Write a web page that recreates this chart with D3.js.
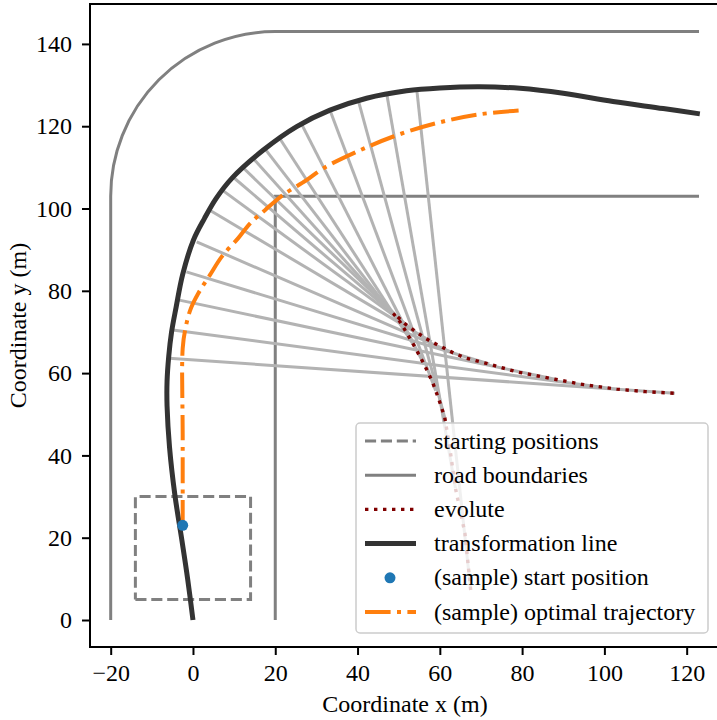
<!DOCTYPE html>
<html>
<head>
<meta charset="utf-8">
<script src="https://cdn.jsdelivr.net/npm/d3@7"></script>
<style>
  body { margin: 0; background: #fff; }
  svg { display: block; font-family: "Liberation Serif", "DejaVu Serif", serif; }
</style>
</head>
<body>
<svg width="717" height="720"></svg>
<script>
// tick values
var xTicks = [-20, 0, 20, 40, 60, 80, 100, 120];
var yTicks = [0, 20, 40, 60, 80, 100, 120, 140];

// road boundaries (outer road has a rounded corner)
var roadOuterStraight = [[-20, 0], [-20, 103]];
var roadOuterTop = [[20, 143], [123, 143]];
var roadCorner = {cx: 20, cy: 103, r: 40};
var roadInner = [[20, 0], [20, 103], [123, 103]];

// starting positions box
var startBox = {x0: -14, x1: 14, y0: 5, y1: 30};

// transformation line
var transformLine = [
  [0, 0], [-1.3, 10], [-2.7, 19.4], [-4.4, 30.4], [-5.7, 42], [-6.3, 52],
  [-6.3, 58], [-5.9, 64], [-5.2, 70], [-4.1, 76], [-2.5, 84], [0.1, 92.3],
  [2.8, 97.6], [5.6, 102.4], [9.6, 107.5], [17.1, 114.2], [25.2, 119.9],
  [33.3, 123.9], [42.2, 126.8], [51.9, 128.6], [60, 129.3], [69.7, 129.6],
  [79.5, 129.2], [90, 128], [102.1, 126], [114.3, 124.3], [123.2, 123]
];

// evolute (lower end -> cusp -> right end)
var evolute = [
  [67.5, 7.3], [66.1, 21.1], [63.8, 32], [62.4, 42], [61.2, 49.2], [59.8, 53.5],
  [58.2, 57.9], [56.2, 62.1], [53.9, 66.4], [51.5, 70.5], [50.3, 72.5], [48.7, 74.5],
  [49.2, 74.2], [51.5, 72], [54, 70.2], [56, 68.8], [58, 67.6], [60, 66.6],
  [63.5, 64.8], [66.5, 63.6], [72, 62.2], [78.7, 60.3], [88, 58.5],
  [95, 57.2], [103, 56.1], [110, 55.5], [117.1, 55.1]
];

// normals: from transformation line to evolute
var normals = [
  [-5.8, 63.6, 117.1, 55.1],
  [-4.9, 70.5, 103, 56.1],
  [-3.6, 77.8, 88, 58.5],
  [-1.6, 84.6, 72, 62.2],
  [0.9, 91.9, 63.5, 64.8],
  [4.2, 99.5, 58, 67.6],
  [7.2, 104.4, 54, 70.2],
  [9.8, 107.6, 51.5, 72],
  [12.2, 109.9, 49.2, 74.2],
  [14.7, 112.1, 50.3, 72.5],
  [17.5, 114.5, 51.5, 70.5],
  [21.1, 117.0, 53.9, 66.4],
  [26.4, 120.5, 56.2, 62.1],
  [33.3, 123.9, 59, 55.7],
  [40.2, 126.2, 61.2, 49.2],
  [47.1, 127.8, 63.8, 32],
  [54.4, 128.9, 67.5, 7.3]
];

// sample optimal trajectory and its start
var trajectory = [
  [-2.5, 23], [-2.5, 45], [-2.5, 66], [-1.8, 71], [-0.6, 75.5], [1.3, 79.4],
  [4.1, 83.8], [7, 88.3], [11, 92.8], [13.9, 96.4], [17.5, 99.6], [21.9, 103.3],
  [27.6, 106.9], [31.7, 109.8], [39.8, 113.8], [48.7, 117.5], [59, 120.7],
  [69.7, 122.9], [80.3, 123.9]
];
var startPosition = [-2.5, 23];

var legendLabels = [
  "starting positions", "road boundaries", "evolute",
  "transformation line", "(sample) start position", "(sample) optimal trajectory"
];

var svg = d3.select("svg"),
    plotLeft = 90, plotRight = 720, plotTop = 4, plotBottom = 647,
    fontSize = "24px";

var x = d3.scaleLinear().domain([-25.03, 128.1]).range([plotLeft, plotRight]);
var y = d3.scaleLinear().domain([-6.56, 149.7]).range([plotBottom, plotTop]);

var line = d3.line()
  .x(function(d) { return x(d[0]); })
  .y(function(d) { return y(d[1]); });
var smooth = d3.line()
  .x(function(d) { return x(d[0]); })
  .y(function(d) { return y(d[1]); })
  .curve(d3.curveCatmullRom);

var plot = svg.append("g");

// road boundaries
var k = x(1) - x(0);
var outerPath = d3.path();
outerPath.moveTo(x(roadOuterStraight[0][0]), y(roadOuterStraight[0][1]));
outerPath.lineTo(x(roadOuterStraight[1][0]), y(roadOuterStraight[1][1]));
outerPath.arc(x(roadCorner.cx), y(roadCorner.cy), roadCorner.r * k, Math.PI, 1.5 * Math.PI);
outerPath.lineTo(x(roadOuterTop[1][0]), y(roadOuterTop[1][1]));

plot.append("path")
  .attr("d", outerPath.toString())
  .attr("fill", "none")
  .attr("stroke", "#808080")
  .attr("stroke-width", 3);

plot.append("path")
  .datum(roadInner)
  .attr("d", line)
  .attr("fill", "none")
  .attr("stroke", "#808080")
  .attr("stroke-width", 3);

// starting positions
plot.append("path")
  .datum([[startBox.x0, startBox.y0], [startBox.x1, startBox.y0], [startBox.x1, startBox.y1],
          [startBox.x0, startBox.y1], [startBox.x0, startBox.y0]])
  .attr("d", line)
  .attr("fill", "none")
  .attr("stroke", "#808080")
  .attr("stroke-width", 3)
  .attr("stroke-dasharray", "11.1,4.8");

// normals
plot.selectAll(".normal")
  .data(normals)
  .enter().append("line")
  .attr("class", "normal")
  .attr("x1", function(d) { return x(d[0]); })
  .attr("y1", function(d) { return y(d[1]); })
  .attr("x2", function(d) { return x(d[2]); })
  .attr("y2", function(d) { return y(d[3]); })
  .attr("stroke", "#b3b3b3")
  .attr("stroke-width", 3);

// evolute
plot.append("path")
  .datum(evolute)
  .attr("d", line)
  .attr("fill", "none")
  .attr("stroke", "#800000")
  .attr("stroke-width", 3.4)
  .attr("stroke-dasharray", "3.4,5.6");

// transformation line
plot.append("path")
  .datum(transformLine)
  .attr("d", smooth)
  .attr("fill", "none")
  .attr("stroke", "#333333")
  .attr("stroke-width", 5);

// optimal trajectory
plot.append("path")
  .datum(trajectory)
  .attr("d", smooth)
  .attr("fill", "none")
  .attr("stroke", "#ff7f0e")
  .attr("stroke-width", 4)
  .attr("stroke-dasharray", "25.6,6.4,4,6.4");

plot.append("circle")
  .attr("cx", x(startPosition[0]))
  .attr("cy", y(startPosition[1]))
  .attr("r", 5.5)
  .attr("fill", "#1f77b4");

// axes
var xAxis = svg.append("g")
  .attr("transform", "translate(0," + plotBottom + ")")
  .call(d3.axisBottom(x).tickValues(xTicks).tickSize(8).tickPadding(9)
    .tickFormat(function(d) { return d < 0 ? "\u2212" + Math.abs(d) : d; }));
var yAxis = svg.append("g")
  .attr("transform", "translate(" + plotLeft + ",0)")
  .call(d3.axisLeft(y).tickValues(yTicks).tickSize(8).tickPadding(10));

[xAxis, yAxis].forEach(function(a) {
  a.select(".domain").remove();
  a.selectAll(".tick line").attr("stroke", "#000").attr("stroke-width", 2);
  a.selectAll(".tick text")
    .attr("fill", "#000")
    .style("font-family", "Liberation Serif, serif")
    .style("font-size", fontSize);
});

// spines (right spine falls outside the picture)
svg.append("path")
  .attr("d", "M" + plotRight + "," + plotTop + "H" + plotLeft + "V" + plotBottom + "H" + plotRight)
  .attr("fill", "none")
  .attr("stroke", "#000")
  .attr("stroke-width", 2);

svg.append("text")
  .attr("x", (plotLeft + plotRight) / 2)
  .attr("y", 712)
  .attr("text-anchor", "middle")
  .style("font-size", fontSize)
  .text("Coordinate x (m)");

svg.append("text")
  .attr("transform", "translate(26," + (plotTop + plotBottom) / 2 + ") rotate(-90)")
  .attr("text-anchor", "middle")
  .style("font-size", fontSize)
  .text("Coordinate y (m)");

// legend
var legend = svg.append("g");
legend.append("rect")
  .attr("x", 356).attr("y", 423)
  .attr("width", 352).attr("height", 210)
  .attr("rx", 4)
  .attr("fill", "#fff")
  .attr("fill-opacity", 0.8)
  .attr("stroke", "#cccccc")
  .attr("stroke-width", 1.5);

var handles = [
  {stroke: "#808080", width: 3, dash: "11.1,4.8"},
  {stroke: "#808080", width: 3, dash: null},
  {stroke: "#800000", width: 3.4, dash: "3.4,5.6"},
  {stroke: "#333333", width: 5, dash: null},
  {dot: true},
  {stroke: "#ff7f0e", width: 4, dash: "25.6,6.4,4,6.4"}
];

legendLabels.forEach(function(label, i) {
  var ry = 441 + i * 34.2;
  var h = handles[i];
  if (h.dot) {
    legend.append("circle").attr("cx", 390).attr("cy", ry).attr("r", 5.5).attr("fill", "#1f77b4");
  } else {
    legend.append("line")
      .attr("x1", 365).attr("x2", 416)
      .attr("y1", ry).attr("y2", ry)
      .attr("stroke", h.stroke)
      .attr("stroke-width", h.width)
      .attr("stroke-dasharray", h.dash);
  }
  legend.append("text")
    .attr("x", 434)
    .attr("y", ry)
    .attr("dy", "0.32em")
    .style("font-size", fontSize)
    .text(label);
});
</script>
</body>
</html>
